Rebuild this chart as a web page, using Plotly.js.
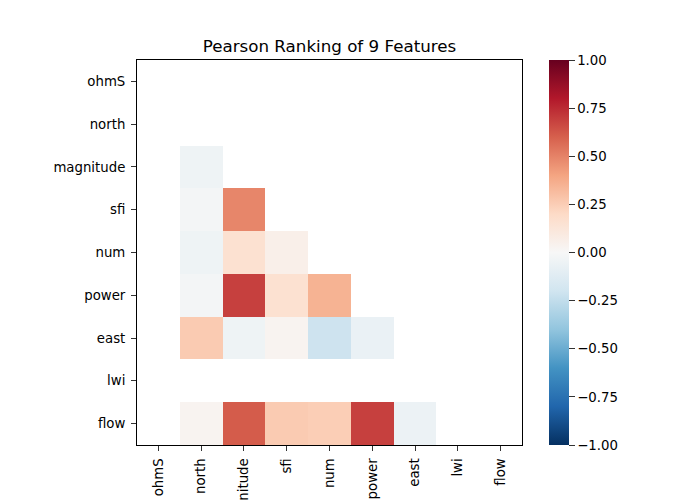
<!DOCTYPE html>
<html>
<head>
<meta charset="utf-8">
<script src="https://cdn.plot.ly/plotly-3.0.1.min.js"></script>
<style>html,body{margin:0;padding:0;background:#fff;}#chart{width:700px;height:500px;}</style>
</head>
<body>
<div id="chart"></div>
<script>
const features = ["ohmS", "north", "magnitude", "sfi", "num", "power", "east", "lwi", "flow"];
// Lower-triangle Pearson correlations (null = masked / undefined)
const rowOhmS      = [null, null, null, null, null, null, null, null, null];
const rowNorth     = [null, null, null, null, null, null, null, null, null];
const rowMagnitude = [null, -0.05, null, null, null, null, null, null, null];
const rowSfi       = [null, -0.02, 0.49, null, null, null, null, null, null];
const rowNum       = [null, -0.05, 0.16, 0.06, null, null, null, null, null];
const rowPower     = [null, -0.02, 0.69, 0.16, 0.35, null, null, null, null];
const rowEast      = [null, 0.26, -0.05, 0.03, -0.21, -0.07, null, null, null];
const rowLwi       = [null, null, null, null, null, null, null, null, null];
const rowFlow      = [null, 0.03, 0.61, 0.26, 0.25, 0.69, -0.06, null, null];
const zRows = [rowOhmS, rowNorth, rowMagnitude, rowSfi, rowNum, rowPower, rowEast, rowLwi, rowFlow];
const cbTicks = [-1, -0.75, -0.5, -0.25, 0, 0.25, 0.5, 0.75, 1];

const rdbuR = [
  [0.0, "#053061"], [0.1, "#2166ac"], [0.2, "#4393c3"], [0.3, "#92c5de"],
  [0.4, "#d1e5f0"], [0.5, "#f7f7f7"], [0.6, "#fddbc7"], [0.7, "#f4a582"],
  [0.8, "#d6604d"], [0.9, "#b2182b"], [1.0, "#67001f"]
];

const font = {family: "DejaVu Sans, sans-serif", size: 13.3, color: "#000"};

const trace = {
  type: "heatmap",
  x: features,
  y: features,
  z: zRows,
  zmin: -1, zmax: 1,
  colorscale: rdbuR,
  hoverongaps: false,
  colorbar: {
    x: 1.07, xanchor: "left", xref: "paper",
    y: 0.5, yanchor: "middle", len: 1, lenmode: "fraction",
    thickness: 20, thicknessmode: "pixels",
    outlinewidth: 0,
    ticks: "outside", ticklen: 6, tickwidth: 0.8, tickcolor: "#000",
    tickvals: cbTicks, tickformat: ".2f",
    tickfont: font, xpad: 0, ypad: 0
  }
};

const layout = {
  width: 700, height: 500,
  margin: {l: 137, r: 178, t: 60, b: 55, pad: 0},
  paper_bgcolor: "#fff", plot_bgcolor: "#fff",
  font: font,
  title: {text: "Pearson Ranking of 9 Features", font: {family: "DejaVu Sans, sans-serif", size: 16.7, color: "#000"},
          x: 0.5, xref: "paper", xanchor: "center", y: 1, yref: "paper", yanchor: "bottom", pad: {b: 8}},
  xaxis: {
    type: "category", tickangle: -90, ticks: "outside", ticklen: 5, tickwidth: 0.8, tickcolor: "#000",
    showline: true, linecolor: "#000", linewidth: 1, mirror: true, showgrid: false, zeroline: false,
    tickfont: font, automargin: false, ticklabelstandoff: 2
  },
  yaxis: {
    type: "category", autorange: "reversed", ticks: "outside", ticklen: 5, tickwidth: 0.8, tickcolor: "#000",
    showline: true, linecolor: "#000", linewidth: 1, mirror: true, showgrid: false, zeroline: false,
    tickfont: font, automargin: false, ticklabelstandoff: 3
  }
};

Plotly.newPlot("chart", [trace], layout, {staticPlot: true, displayModeBar: false});
</script>
</body>
</html>
